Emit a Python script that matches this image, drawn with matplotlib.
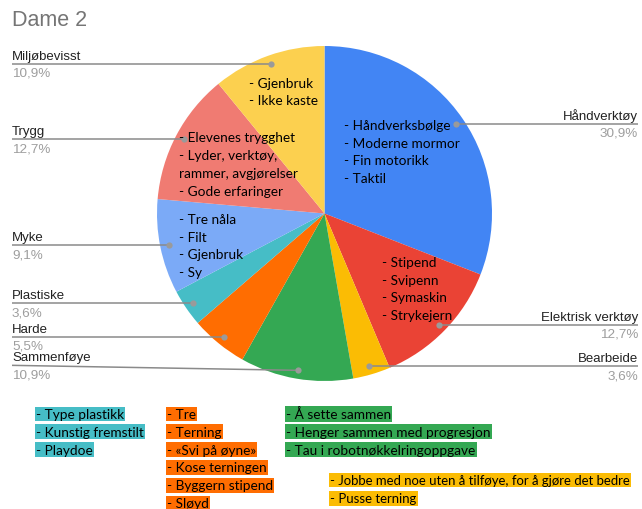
import numpy as np
import matplotlib
matplotlib.use('Agg')
import matplotlib.pyplot as plt

# slices, clockwise from 12 o'clock
labels = ['Håndverktøy', 'Elektrisk verktøy', 'Bearbeide', 'Sammenføye', 'Harde',
          'Plastiske', 'Myke', 'Trygg', 'Miljøbevisst']
values = [30.9, 12.7, 3.6, 10.9, 5.5, 3.6, 9.1, 12.7, 10.9]
pct_text = ['30,9%', '12,7%', '3,6%', '10,9%', '5,5%', '3,6%', '9,1%', '12,7%', '10,9%']
colors = ['#4285F4', '#EA4335', '#FBBC04', '#34A853', '#FF6D01',
          '#46BDC6', '#7BAAF7', '#F07B72', '#FCD04F']

# notes written inside the pie
notes_hand = ['- Håndverksbølge', '- Moderne mormor', '- Fin motorikk', '- Taktil']
notes_el = ['- Stipend', '- Svipenn', '- Symaskin', '- Strykejern']
notes_myke = ['- Tre nåla', '- Filt', '- Gjenbruk', '- Sy']
notes_trygg = ['- Elevenes trygghet', '- Lyder, verktøy,', 'rammer, avgjørelser',
               '- Gode erfaringer']
notes_miljo = ['- Gjenbruk', '- Ikke kaste']

# highlighted notes below the chart
notes_plast = ['- Type plastikk', '- Kunstig fremstilt', '- Playdoe']
notes_harde = ['- Tre', '- Terning', '- «Svi på øyne»', '- Kose terningen',
               '- Byggern stipend', '- Sløyd']
notes_samm = ['- Å sette sammen', '- Henger sammen med progresjon',
              '- Tau i robotnøkkelringoppgave']
notes_bearb = ['- Jobbe med noe uten å tilføye, for å gjøre det bedre',
               '- Pusse terning']

W, H = 642, 510
fig = plt.figure(figsize=(W / 100, H / 100), dpi=100)
ax = fig.add_axes([0, 0, 1, 1])
ax.axis('off')

def Y(py):
    return H - py

cx, cy, R = 324.5, Y(214.5), 167.5
wedges, _ = ax.pie(values, colors=colors, startangle=90, counterclock=False,
                   center=(cx, cy), radius=R, wedgeprops=dict(linewidth=0))
ax.set_xlim(0, W)
ax.set_ylim(0, H)
ax.set_aspect('equal')

lab_font = 'Liberation Sans'
note_font = 'Lato'

ax.text(12, Y(21), 'Dame 2', fontsize=15.5, color='#757575', family=lab_font,
        va='center', ha='left')

# leader lines + labels
label_shift = {'Sammenføye': -5}
for w, name, pct in zip(wedges, labels, pct_text):
    ang = np.deg2rad((w.theta1 + w.theta2) / 2)
    dx = cx + 0.95 * R * np.cos(ang)
    dy = cy + 0.95 * R * np.sin(ang)
    ly = dy - label_shift.get(name, 0)
    if np.cos(ang) >= 0:
        xe, ha = 638, 'right'
    else:
        xe, ha = 12, 'left'
    ax.plot([xe, dx], [ly, dy], color='#8a8a8a', lw=1.1, solid_capstyle='butt', zorder=3)
    ax.plot(dx, dy, 'o', color='#9a9a9a', ms=4.5, mec='none', zorder=4)
    ax.text(xe, ly + 2, name, fontsize=9.5, family=lab_font, color='#222222',
            ha=ha, va='bottom')
    ax.text(xe, ly - 3, pct, fontsize=9.7, family=lab_font, color='#9e9e9e',
            ha=ha, va='top')

def note_block(lines, x, y0, step=17.7, bg=None, fs=9.8):
    for i, t in enumerate(lines):
        kw = {}
        if bg is not None:
            kw['bbox'] = dict(boxstyle='square,pad=0.1', fc=bg, ec='none', lw=0)
        ax.text(x, Y(y0 + i * step), t, fontsize=fs, family=note_font,
                color='black', ha='left', va='center', zorder=5, **kw)

note_block(notes_miljo, 249, 83.5)
note_block(notes_trygg, 179, 138.5)
note_block(notes_hand, 344, 126)
note_block(notes_el, 382, 263)
note_block(notes_myke, 179, 220)

note_block(notes_plast, 36, 415, step=17.8, bg='#46BDC6')
note_block(notes_harde, 167, 415, step=17.8, bg='#FF6D01')
note_block(notes_samm, 286, 415, step=17.8, bg='#34A853')
note_block(notes_bearb, 330, 481, step=18.5, bg='#FBBC04', fs=9.45)

fig.savefig('out.png', dpi=100, facecolor='white')
